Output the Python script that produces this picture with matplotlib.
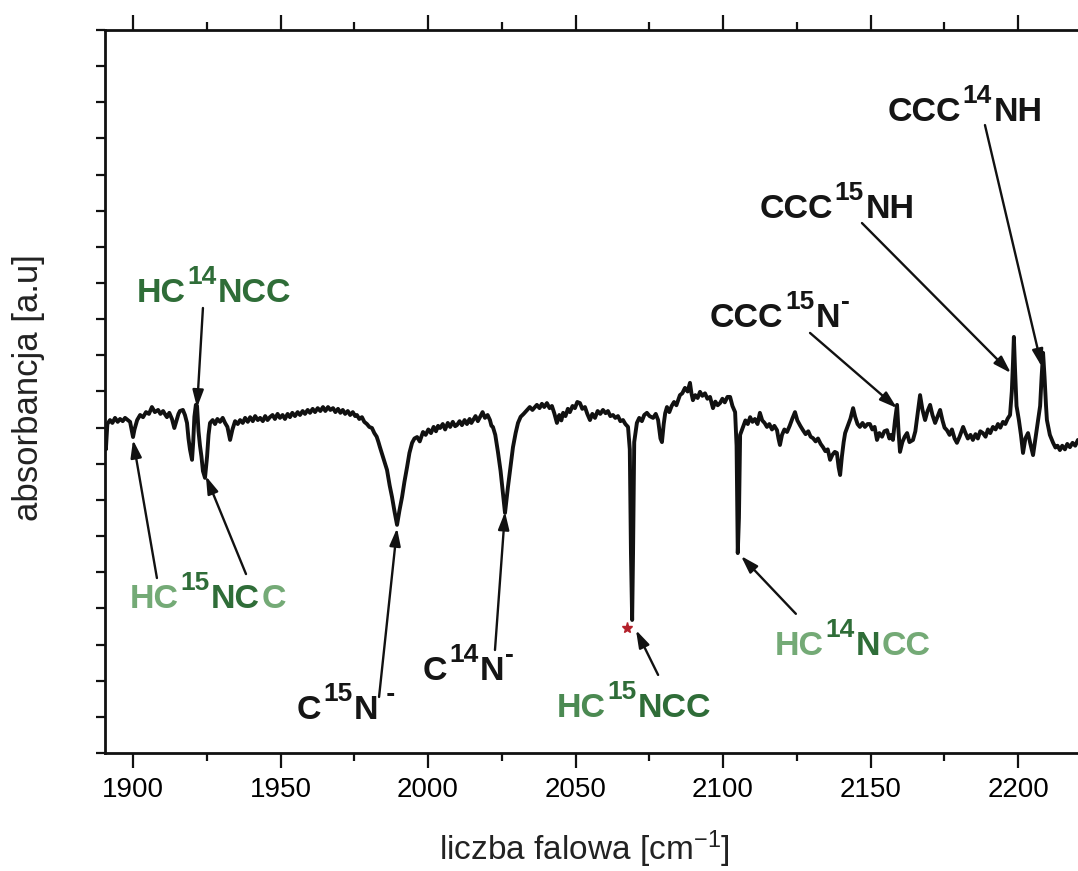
import matplotlib
matplotlib.use("Agg")
import matplotlib.pyplot as plt
from matplotlib.ticker import MultipleLocator

plt.rcParams["font.family"] = ["Liberation Sans", "DejaVu Sans"]
plt.rcParams["mathtext.default"] = "regular"

# -----------------------------
# spectrum
# -----------------------------
WAVENUMBER = [
    1890.5, 1890.8, 1891.3, 1892.2, 1893.0, 1893.9, 1894.8, 1895.6, 1896.5, 1897.3,
    1898.2, 1899.0, 1899.6, 1900.0, 1900.5, 1901.4, 1902.4, 1903.4, 1904.4, 1905.4,
    1906.4, 1907.4, 1908.5, 1909.3, 1910.2, 1911.0, 1911.5, 1912.3, 1913.2, 1914.0,
    1914.6, 1915.4, 1915.9, 1916.9, 1917.6, 1918.3, 1918.8, 1919.3, 1920.0, 1920.4,
    1920.8, 1921.3, 1921.7, 1922.2, 1922.7, 1923.2, 1923.7, 1924.4, 1925.1, 1925.6,
    1926.1, 1927.0, 1927.8, 1928.6, 1929.5, 1930.4, 1931.2, 1932.0, 1932.9, 1933.7,
    1934.6, 1935.5, 1936.3, 1937.2, 1938.0, 1938.9, 1939.7, 1940.6, 1941.4, 1942.3,
    1943.1, 1944.0, 1944.8, 1945.6, 1946.4, 1947.3, 1948.1, 1949.0, 1949.8, 1950.7,
    1951.5, 1952.4, 1953.2, 1954.0, 1954.9, 1955.8, 1956.6, 1957.5, 1958.3, 1959.2,
    1960.0, 1960.9, 1961.7, 1962.6, 1963.5, 1964.4, 1965.2, 1966.1, 1966.9, 1967.8,
    1968.6, 1969.5, 1970.3, 1971.1, 1971.9, 1972.8, 1973.6, 1974.5, 1975.3, 1975.9,
    1976.7, 1977.6, 1978.4, 1979.3, 1980.1, 1981.0, 1981.8, 1982.6, 1983.2, 1983.7,
    1984.5, 1985.3, 1986.1, 1987.0, 1987.8, 1988.6, 1989.5, 1990.3, 1991.2, 1992.0,
    1992.9, 1993.7, 1994.6, 1995.4, 1996.3, 1997.2, 1998.3, 1999.2, 2000.1, 2001.0,
    2001.9, 2002.7, 2003.4, 2004.1, 2005.0, 2005.8, 2006.7, 2007.5, 2008.4, 2009.2,
    2009.8, 2010.7, 2011.5, 2012.4, 2013.2, 2014.1, 2014.7, 2015.3, 2016.1, 2016.9,
    2017.6, 2018.5, 2019.3, 2020.2, 2021.0, 2021.5, 2022.0, 2022.8, 2023.7, 2024.6,
    2025.4, 2026.1, 2027.1, 2028.0, 2028.8, 2029.7, 2030.5, 2031.4, 2032.4, 2033.6,
    2034.5, 2035.4, 2036.9, 2037.8, 2038.6, 2039.4, 2040.3, 2041.2, 2042.0, 2042.8,
    2043.7, 2044.5, 2045.2, 2045.8, 2046.6, 2047.4, 2048.1, 2049.0, 2049.8, 2050.6,
    2051.5, 2052.3, 2053.2, 2054.0, 2054.9, 2055.7, 2056.6, 2057.5, 2058.4, 2059.3,
    2060.2, 2061.0, 2061.8, 2062.7, 2063.5, 2064.4, 2065.2, 2066.1, 2066.9, 2067.8,
    2068.4, 2068.8, 2069.2, 2069.5, 2069.9, 2070.8, 2071.6, 2072.5, 2073.3, 2074.2,
    2075.1, 2076.3, 2077.2, 2078.0, 2078.8, 2079.3, 2079.9, 2080.4, 2081.0, 2081.8,
    2082.6, 2083.4, 2084.2, 2085.4, 2086.2, 2087.1, 2088.0, 2088.8, 2089.3, 2089.8,
    2090.6, 2091.4, 2092.2, 2093.0, 2093.9, 2094.7, 2095.6, 2096.1, 2096.6, 2097.4,
    2098.2, 2099.0, 2099.8, 2100.6, 2101.5, 2102.4, 2103.2, 2104.1, 2104.6, 2105.0,
    2105.4, 2105.8, 2106.8, 2107.6, 2108.4, 2109.2, 2110.0, 2110.8, 2111.7, 2112.5,
    2113.3, 2114.1, 2114.9, 2115.7, 2116.6, 2117.4, 2118.3, 2118.8, 2119.3, 2120.0,
    2120.8, 2121.7, 2122.6, 2123.5, 2124.4, 2125.2, 2126.2, 2127.1, 2128.0, 2128.9,
    2129.7, 2130.5, 2131.4, 2132.2, 2133.1, 2133.9, 2134.7, 2135.5, 2136.3, 2137.1,
    2137.9, 2138.6, 2139.2, 2139.7, 2140.3, 2140.9, 2141.4, 2142.3, 2143.2, 2144.1,
    2144.8, 2145.6, 2146.4, 2147.3, 2148.1, 2149.0, 2149.8, 2150.6, 2151.4, 2152.2,
    2153.0, 2153.9, 2154.7, 2155.6, 2156.4, 2157.0, 2157.6, 2158.3, 2159.0, 2159.5,
    2160.0, 2160.8, 2161.6, 2162.4, 2163.2, 2164.4, 2165.2, 2166.0, 2166.8, 2167.6,
    2168.5, 2169.3, 2170.2, 2171.0, 2171.9, 2172.7, 2173.6, 2174.4, 2175.1, 2175.9,
    2176.8, 2177.6, 2178.5, 2179.3, 2180.2, 2181.4, 2182.2, 2183.0, 2183.9, 2184.7,
    2185.6, 2186.4, 2187.2, 2188.1, 2189.0, 2189.8, 2190.6, 2191.5, 2192.4, 2193.2,
    2194.0, 2194.9, 2195.7, 2196.5, 2197.3, 2197.9, 2198.3, 2198.6, 2199.0, 2199.5,
    2200.3, 2201.0, 2201.7, 2202.5, 2203.4, 2204.2, 2205.1, 2205.9, 2206.8, 2207.5,
    2208.0, 2208.5, 2209.0, 2209.5, 2209.8, 2210.8, 2211.9, 2212.7, 2213.4, 2214.2,
    2215.0, 2215.9, 2216.7, 2217.6, 2218.5, 2219.4, 2220.3, 2221.2, 2222.0,
]
ABSORBANCE = [
    9.10, 8.40, 9.10, 9.21, 9.13, 9.27, 9.16, 9.24, 9.18, 9.27,
    9.21, 9.16, 8.90, 8.74, 8.95, 9.21, 9.35, 9.29, 9.43, 9.38,
    9.57, 9.43, 9.49, 9.38, 9.46, 9.35, 9.29, 9.41, 9.24, 8.99,
    9.16, 9.38, 9.46, 9.49, 9.35, 9.13, 8.70, 8.40, 8.11, 8.60,
    9.30, 9.63, 9.60, 8.90, 8.50, 8.20, 7.80, 7.61, 8.20, 8.80,
    9.13, 9.21, 9.10, 9.24, 9.16, 9.27, 9.13, 9.02, 8.66, 8.95,
    9.18, 9.10, 9.21, 9.13, 9.27, 9.16, 9.29, 9.18, 9.32, 9.21,
    9.27, 9.18, 9.32, 9.21, 9.29, 9.35, 9.24, 9.38, 9.27, 9.35,
    9.24, 9.38, 9.29, 9.41, 9.32, 9.43, 9.35, 9.46, 9.38, 9.49,
    9.41, 9.52, 9.43, 9.54, 9.46, 9.57, 9.46, 9.57, 9.49, 9.54,
    9.43, 9.52, 9.41, 9.49, 9.38, 9.46, 9.35, 9.43, 9.32, 9.35,
    9.24, 9.29, 9.16, 9.10, 9.02, 8.99, 8.85, 8.75, 8.60, 8.46,
    8.25, 8.05, 7.83, 7.40, 7.08, 6.70, 6.31, 6.70, 7.08, 7.50,
    7.91, 8.30, 8.58, 8.70, 8.74, 8.62, 8.88, 8.80, 8.95, 8.85,
    9.02, 8.90, 9.05, 8.99, 9.10, 8.95, 9.13, 9.02, 9.16, 9.04,
    9.07, 9.18, 9.07, 9.21, 9.10, 9.24, 9.13, 9.21, 9.32, 9.18,
    9.29, 9.43, 9.27, 9.35, 9.21, 9.05, 9.02, 8.80, 8.33, 7.80,
    7.19, 6.64, 7.36, 7.95, 8.46, 8.85, 9.13, 9.30, 9.38, 9.49,
    9.57, 9.49, 9.63, 9.54, 9.66, 9.57, 9.68, 9.54, 9.60, 9.40,
    9.13, 9.35, 9.20, 9.41, 9.32, 9.52, 9.43, 9.60, 9.54, 9.71,
    9.68, 9.52, 9.57, 9.38, 9.21, 9.38, 9.27, 9.46, 9.38, 9.49,
    9.40, 9.46, 9.32, 9.35, 9.27, 9.32, 9.18, 9.21, 9.10, 9.02,
    8.40, 5.50, 3.68, 5.50, 8.60, 9.13, 9.27, 9.18, 9.35, 9.41,
    9.32, 9.27, 9.38, 9.21, 8.70, 8.60, 9.10, 9.40, 9.57, 9.43,
    9.60, 9.71, 9.62, 9.90, 9.95, 10.10, 10.00, 10.24, 9.95, 9.76,
    9.90, 9.82, 9.99, 9.88, 9.95, 9.80, 9.85, 9.70, 9.54, 9.72,
    9.62, 9.68, 9.80, 9.70, 9.85, 9.85, 9.60, 9.43, 8.50, 5.53,
    6.50, 8.80, 9.02, 9.20, 9.10, 9.29, 9.16, 9.24, 9.10, 9.41,
    9.20, 9.13, 9.02, 9.10, 8.95, 9.05, 8.93, 8.70, 8.52, 8.80,
    8.95, 8.88, 9.05, 9.25, 9.43, 9.20, 9.05, 8.93, 8.82, 8.90,
    8.75, 8.71, 8.62, 8.70, 8.55, 8.46, 8.35, 8.40, 8.11, 8.25,
    8.33, 8.30, 7.90, 7.69, 8.20, 8.60, 8.85, 9.05, 9.25, 9.54,
    9.30, 9.10, 9.02, 9.13, 9.02, 9.10, 9.10, 8.95, 9.02, 8.66,
    8.85, 8.75, 8.90, 8.93, 8.70, 8.80, 8.66, 9.20, 9.63, 8.90,
    8.33, 8.60, 8.75, 8.85, 8.60, 8.66, 8.90, 9.40, 9.90, 9.50,
    9.21, 9.45, 9.63, 9.35, 9.13, 9.30, 9.49, 9.20, 9.00, 8.93,
    8.80, 8.95, 8.70, 8.58, 8.75, 9.02, 8.85, 8.70, 8.80, 8.66,
    8.82, 8.70, 8.90, 8.85, 8.75, 8.95, 8.85, 9.02, 8.95, 9.10,
    9.00, 9.16, 9.10, 9.25, 9.35, 10.00, 10.80, 11.51, 10.60, 9.60,
    9.21, 8.80, 8.30, 8.70, 8.85, 8.55, 8.24, 8.70, 9.21, 9.60,
    10.40, 11.07, 10.40, 9.60, 9.21, 8.80, 8.58, 8.45, 8.50, 8.38,
    8.50, 8.40, 8.55, 8.46, 8.58, 8.50, 8.66, 8.60, 8.70,
]

# red star next to the HC15NCC band
STAR_X = [2067.5]
STAR_Y = [3.46]

# -----------------------------
# label texts: (text, colour, superscript?)
# -----------------------------
DARK, MID, LIGHT, INK = "#2f6d38", "#4b8a52", "#74aa76", "#151515"

LABEL_POS = [
    (1901.4, 12.48), (1899.0, 4.01), (1955.6, 0.93), (1998.3, 2.02),
    (2043.7, 1.00), (2117.6, 2.71), (2095.6, 11.78), (2112.5, 14.80),
    (2155.9, 17.48),
]
LABEL_PARTS = [
    [("HC", DARK, False), ("14", DARK, True), ("NCC", DARK, False)],
    [("HC", LIGHT, False), ("15", DARK, True), ("NC", DARK, False), ("C", LIGHT, False)],
    [("C", INK, False), ("15", INK, True), ("N", INK, False), (" -", INK, True)],
    [("C", INK, False), ("14", INK, True), ("N", INK, False), ("-", INK, True)],
    [("HC", MID, False), ("15", DARK, True), ("NCC", DARK, False)],
    [("HC", LIGHT, False), ("14", DARK, True), ("N", DARK, False), ("CC", LIGHT, False)],
    [("CCC", INK, False), ("15", INK, True), ("N", INK, False), ("-", INK, True)],
    [("CCC", INK, False), ("15", INK, True), ("NH", INK, False)],
    [("CCC", INK, False), ("14", INK, True), ("NH", INK, False)],
]

# arrows: tail (x, y) -> tip (x, y)
ARROW_TAIL = [
    (1923.7, 12.31), (1908.1, 4.84), (1938.3, 4.95), (1983.4, 1.55),
    (2022.7, 2.85), (2078.0, 2.16), (2124.7, 3.85), (2129.5, 11.62),
    (2147.1, 14.66), (2188.8, 17.37),
]
ARROW_TIP = [
    (1921.7, 9.55), (1900.0, 8.66), (1924.7, 7.66), (1989.5, 6.22),
    (2026.1, 6.67), (2070.5, 3.40), (2106.1, 5.45), (2159.0, 9.54),
    (2197.6, 10.51), (2208.1, 10.68),
]


def put_label(ax, x, y, parts, size=24.5, sup_size=19, raise_pt=13):
    prev = None
    for text, color, sup in parts:
        kw = dict(fontsize=sup_size if sup else size, fontweight="bold",
                  color=color, ha="left", va="baseline", annotation_clip=False)
        dy = raise_pt if sup else 0
        if prev is None:
            prev = ax.annotate(text, xy=(x, y), xycoords="data",
                               xytext=(0, dy), textcoords="offset points", **kw)
        else:
            prev = ax.annotate(text, xy=(1, y), xycoords=(prev, "data"),
                               xytext=(1, dy), textcoords="offset points", **kw)


fig = plt.figure(figsize=(10.78, 8.71), dpi=100)
# axes run past the right edge, the reference is cropped there
ax = fig.add_axes([105 / 1078, 118 / 871, 1001.5 / 1078, 723 / 871])

ax.plot(WAVENUMBER, ABSORBANCE, color="#111111", lw=2.8, solid_joinstyle="round")
ax.plot(STAR_X, STAR_Y, ls="none", marker="*", ms=8, color="#b3202a")

for (xt, yt), (xh, yh) in zip(ARROW_TAIL, ARROW_TIP):
    ax.annotate("", xy=(xh, yh), xytext=(xt, yt), annotation_clip=False,
                arrowprops=dict(arrowstyle="-|>,head_length=0.7,head_width=0.22",
                                mutation_scale=15, lw=1.7, color="#111111",
                                shrinkA=0, shrinkB=0))

for (lx, ly), parts in zip(LABEL_POS, LABEL_PARTS):
    put_label(ax, lx, ly, parts)

ax.set_xlim(1890.5, 2230)
ax.set_ylim(0, 20)
ax.xaxis.set_major_locator(MultipleLocator(50))
ax.xaxis.set_minor_locator(MultipleLocator(25))
ax.yaxis.set_major_locator(MultipleLocator(1))

ax.tick_params(axis="x", which="major", direction="out", top=True, length=11,
               width=1.6, labelsize=20, pad=6, color="#111111")
ax.tick_params(axis="x", which="minor", direction="out", top=True, length=5.5,
               width=1.6, color="#111111")
ax.tick_params(axis="y", which="major", direction="out", length=6.5, width=1.6,
               labelleft=False, right=False, color="#111111")
for s in ax.spines.values():
    s.set_linewidth(2.0)
    s.set_color("#111111")

ax.set_xlabel(r"liczba falowa [cm$^{\mathregular{-1}}$]", fontsize=24, color="#222222")
ax.xaxis.set_label_coords(0.479, -0.104)
ax.set_ylabel("absorbancja [a.u]", fontsize=25, color="#222222")
ax.yaxis.set_label_coords(-0.060, 0.505)

fig.savefig("out.png", dpi=100)
